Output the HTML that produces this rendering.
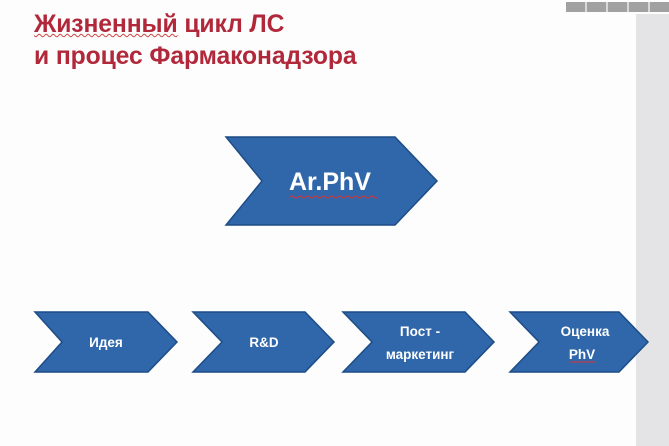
<!DOCTYPE html>
<html><head><meta charset="utf-8"><style>
body{margin:0;width:669px;height:446px;background:#fdfdfd;position:relative;overflow:hidden;font-family:"Liberation Sans",sans-serif}
.t{position:absolute;left:34px;color:#b0283a;font-weight:bold;font-size:24.7px;line-height:32px;top:9px;letter-spacing:-0.1px}
</style></head><body>
<div style="position:absolute;left:636px;top:14px;width:33px;height:432px;background:#e4e4e6"></div>
<div style="position:absolute;left:566px;top:2px;width:103px;height:10px;background:repeating-linear-gradient(90deg,#8a8a8a 0 19px,#d0d0d0 19px 21px);opacity:.8"></div>
<div class="t"><span style="text-decoration:underline wavy #c44;text-decoration-thickness:1px">Жизненный</span> цикл ЛС<br>и процес Фармаконадзора</div>
<svg width="669" height="446" style="position:absolute;left:0;top:0">
<g fill="#2f67aa" stroke="#1d4c86" stroke-width="1.5">
<polygon points="226,137 395,137 437,181 395,225 226,225 262,181"/>
<polygon points="35,312 148,312 177,342 148,372 35,372 62,342"/>
<polygon points="193,312 305,312 334,342 305,372 193,372 222,342"/>
<polygon points="343,312 465,312 494,342 465,372 343,372 372,342"/>
<polygon points="510,312 619,312 648,342 619,372 510,372 539,342"/>
</g>
<g fill="#fff" font-family="Liberation Sans,sans-serif" font-weight="bold" text-anchor="middle">
<text x="330" y="190" font-size="25">Ar.PhV</text>
<text x="106" y="347" font-size="13.5">Идея</text>
<text x="264" y="347" font-size="13.5">R&amp;D</text>
<text x="420" y="336" font-size="13.5">Пост -</text>
<text x="420" y="359" font-size="13.5">маркетинг</text>
<text x="585" y="336" font-size="13.5">Оценка</text>
<text x="582" y="359" font-size="13.5">PhV</text>
</g>
<path d="M290 197 q2 -2 4 0 t4 0 t4 0 t4 0 t4 0 t4 0 t4 0 t4 0 t4 0 t4 0 t4 0 t4 0 t4 0 t4 0 t4 0 t4 0 t4 0 t4 0 t4 0 t4 0 t4 0 t4 0" stroke="#d33" fill="none" stroke-width="1"/>
<line x1="570" y1="362" x2="595" y2="362" stroke="#d33" stroke-width="1"/>
</svg>
</body></html>
